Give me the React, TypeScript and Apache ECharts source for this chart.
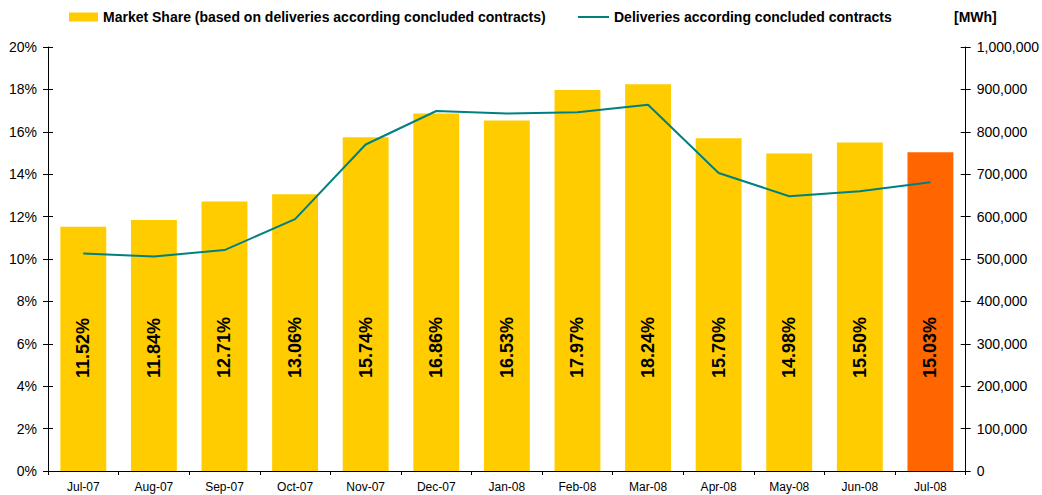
import React, { useEffect, useRef } from "react";
import * as echarts from "echarts";

const categories = ["Jul-07", "Aug-07", "Sep-07", "Oct-07", "Nov-07", "Dec-07", "Jan-08", "Feb-08", "Mar-08", "Apr-08", "May-08", "Jun-08", "Jul-08"];
const marketShare = [11.52, 11.84, 12.71, 13.06, 15.74, 16.86, 16.53, 17.97, 18.24, 15.7, 14.98, 15.5, 15.03];
const deliveries = [513000, 506000, 521000, 594000, 770000, 849000, 843000, 846000, 864000, 703000, 648000, 660000, 681000];
const shareName = "Market Share (based on deliveries according concluded contracts)";
const deliveriesName = "Deliveries according concluded contracts";
const unitLabel = "[MWh]";

const FONT = "'Liberation Sans', Arial, sans-serif";

export default function App() {
  const ref = useRef<HTMLDivElement>(null);
  useEffect(() => {
    document.body.style.margin = "0";
    const chart = echarts.init(ref.current!, undefined, { renderer: "svg" });
    const lastIdx = marketShare.length - 1;
    const axisLine = { show: true, lineStyle: { color: "#000", width: 1 } };
    chart.setOption({
      animation: false,
      textStyle: { fontFamily: FONT },
      grid: { left: 48, right: 76, top: 47, bottom: 24, containLabel: false },
      legend: [
        {
          data: [shareName],
          left: 64,
          top: 5,
          itemWidth: 29,
          itemHeight: 9,
          itemGap: 4,
          icon: "rect",
          textStyle: { fontFamily: FONT, fontWeight: "bold", fontSize: 14, color: "#000" },
        },
        {
          data: [deliveriesName],
          left: 573,
          top: 5,
          itemWidth: 31,
          itemHeight: 2,
          icon: "rect",
          textStyle: { fontFamily: FONT, fontWeight: "bold", fontSize: 14, color: "#000" },
        },
      ],
      graphic: [
        {
          type: "text",
          left: 954,
          top: 10,
          style: { text: unitLabel, font: `bold 14px ${FONT}`, fill: "#000" },
        },
      ],
      xAxis: {
        type: "category",
        data: categories,
        axisLine,
        axisTick: { show: true, length: 4, lineStyle: { color: "#000" } },
        axisLabel: { color: "#000", fontSize: 12, fontFamily: FONT, margin: 10 },
      },
      yAxis: [
        {
          type: "value",
          min: 0,
          max: 20,
          interval: 2,
          position: "left",
          axisLine,
          axisTick: { show: true, length: 5, lineStyle: { color: "#000" } },
          axisLabel: { color: "#000", fontSize: 14, fontFamily: FONT, margin: 11, formatter: "{value}%" },
          splitLine: { show: false },
        },
        {
          type: "value",
          min: 0,
          max: 1000000,
          interval: 100000,
          position: "right",
          axisLine,
          axisTick: { show: true, length: 5, lineStyle: { color: "#000" } },
          axisLabel: {
            color: "#000",
            fontSize: 14,
            fontFamily: FONT,
            margin: 11,
            formatter: (v: number) => v.toLocaleString("en-US"),
          },
          splitLine: { show: false },
        },
        {
          type: "value",
          min: 0,
          max: 20,
          interval: 2,
          position: "left",
          axisLine: { show: false },
          axisTick: { show: true, inside: true, length: 5, lineStyle: { color: "#000" } },
          axisLabel: { show: false },
          splitLine: { show: false },
        },
        {
          type: "value",
          min: 0,
          max: 1000000,
          interval: 100000,
          position: "right",
          axisLine: { show: false },
          axisTick: { show: true, inside: true, length: 5, lineStyle: { color: "#000" } },
          axisLabel: { show: false },
          splitLine: { show: false },
        },
      ],
      series: [
        {
          name: shareName,
          type: "bar",
          yAxisIndex: 0,
          barWidth: "65%",
          itemStyle: { color: "#FFCC00" },
          data: marketShare.map((v, i) => ({
            value: v,
            itemStyle: { color: i === lastIdx ? "#FF6600" : "#FFCC00" },
          })),
          label: {
            show: true,
            position: "insideBottom",
            distance: 93,
            rotate: 90,
            align: "left",
            verticalAlign: "middle",
            formatter: (p: any) => p.value.toFixed(2) + "%",
            fontFamily: FONT,
            fontWeight: "bold",
            fontSize: 18,
            color: "#000",
          },
        },
        {
          name: deliveriesName,
          type: "line",
          yAxisIndex: 1,
          data: deliveries,
          symbol: "none",
          lineStyle: { color: "#008080", width: 2 },
          itemStyle: { color: "#008080" },
        },
      ],
    });
    return () => chart.dispose();
  }, []);
  return <div ref={ref} style={{ width: 1042, height: 495 }} />;
}
